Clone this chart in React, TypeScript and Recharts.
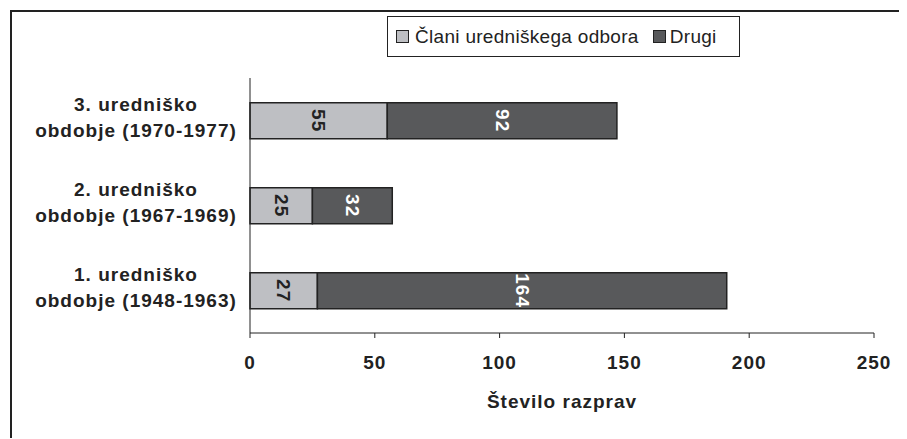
import React from "react";
import { BarChart, Bar, XAxis, YAxis, LabelList } from "recharts";

const periods = ["1. uredniško", "2. uredniško", "3. uredniško"];
const periodYears = ["obdobje (1948-1963)", "obdobje (1967-1969)", "obdobje (1970-1977)"];
const members = [27, 25, 55];
const others = [164, 32, 92];
const xTicks = [0, 50, 100, 150, 200, 250];

const LIGHT = "#bebfc3";
const DARK = "#58595b";
const INK = "#222";
const FONT = "'Liberation Sans', Arial, sans-serif";

// highest category on top, like the original
const data = periods
  .map((p, i) => ({ name: p, years: periodYears[i], members: members[i], others: others[i] }))
  .reverse();

const CategoryTick = (props: any) => {
  const { x, y, payload } = props;
  const row = data.find((d) => d.name === payload.value);
  const cx = x - 114;
  return (
    <text x={cx} y={y} textAnchor="middle" fontFamily={FONT} fontWeight="bold" fontSize={19} letterSpacing={1} fill={INK}>
      <tspan x={cx} dy={-10}>{payload.value}</tspan>
      <tspan x={cx} dy={26}>{row ? row.years : ""}</tspan>
    </text>
  );
};

const rotatedLabel = (color: string) => (props: any) => {
  const { x, y, width, height, value } = props;
  const cx = x + width / 2;
  const cy = y + height / 2;
  return (
    <text
      x={cx}
      y={cy}
      transform={`rotate(90 ${cx} ${cy})`}
      textAnchor="middle"
      dominantBaseline="central"
      fontFamily={FONT}
      fontWeight="bold"
      fontSize={19}
      letterSpacing={1}
      fill={color}
    >
      {value}
    </text>
  );
};

const Swatch = ({ color }: { color: string }) => (
  <span style={{ display: "inline-block", width: 11, height: 11, background: color, border: `1px solid ${INK}` }} />
);

export default function App() {
  return (
    <div style={{ position: "relative", marginLeft: 2, marginTop: 2, borderLeft: `2px solid ${INK}`, borderTop: `2px solid ${INK}`, width: 895, height: 426 }}>
      <div
        style={{
          position: "absolute",
          left: 375,
          top: 4,
          width: 343,
          height: 39,
          border: `1px solid ${INK}`,
          display: "flex",
          alignItems: "center",
          paddingLeft: 8,
          boxSizing: "content-box",
          fontFamily: FONT,
          fontSize: 19,
          letterSpacing: 0.3,
          color: INK,
          background: "#fff",
          zIndex: 2,
        }}
      >
        <Swatch color={LIGHT} />
        <span style={{ marginLeft: 6 }}>Člani uredniškega odbora</span>
        <span style={{ marginLeft: 14, display: "inline-flex" }}>
          <Swatch color={DARK} />
        </span>
        <span style={{ marginLeft: 4 }}>Drugi</span>
      </div>
      <BarChart
        width={895}
        height={426}
        data={data}
        layout="vertical"
        margin={{ top: 66, right: 33, bottom: 0, left: 0 }}
        barCategoryGap="29%"
      >
        <XAxis
          type="number"
          domain={[0, 250]}
          ticks={xTicks}
          interval={0}
          height={105}
          tickSize={5}
          tickMargin={18}
          stroke={INK}
          tick={{ fill: INK, fontFamily: FONT, fontWeight: "bold", fontSize: 19, letterSpacing: 1 }}
          label={{
            value: "Število razprav",
            position: "insideBottom",
            offset: 30,
            fill: INK,
            fontFamily: FONT,
            fontWeight: "bold",
            fontSize: 19,
            letterSpacing: 1,
          }}
        />
        <YAxis
          type="category"
          dataKey="name"
          width={238}
          tickLine={false}
          tickSize={0}
          tickMargin={0}
          stroke={INK}
          tick={<CategoryTick />}
        />
        <Bar dataKey="members" stackId="a" fill={LIGHT} stroke={INK} strokeWidth={1.5} isAnimationActive={false}>
          <LabelList dataKey="members" content={rotatedLabel(INK)} />
        </Bar>
        <Bar dataKey="others" stackId="a" fill={DARK} stroke={INK} strokeWidth={1.5} isAnimationActive={false}>
          <LabelList dataKey="others" content={rotatedLabel("#fff")} />
        </Bar>
      </BarChart>
    </div>
  );
}
